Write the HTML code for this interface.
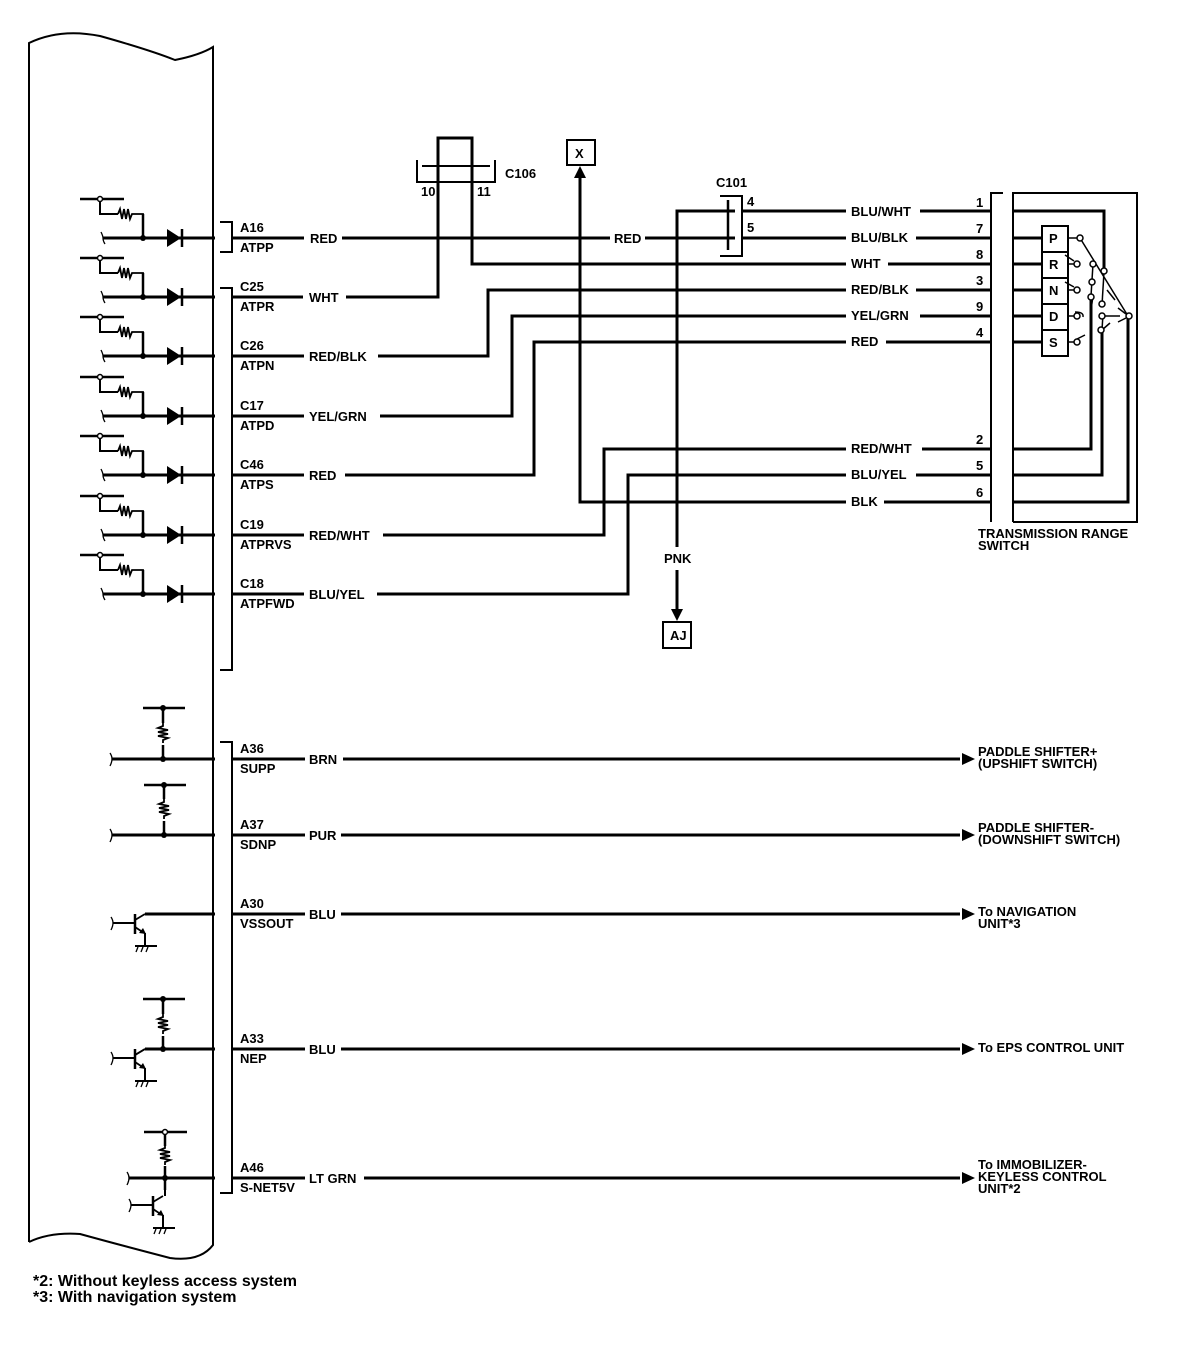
<!DOCTYPE html>
<html><head><meta charset="utf-8"><style>
html,body{margin:0;padding:0;background:#fff}
text{font-family:"Liberation Sans",sans-serif;font-weight:700;font-size:13px;fill:#000}
</style></head><body>
<svg width="1184" height="1358" viewBox="0 0 1184 1358" xmlns="http://www.w3.org/2000/svg" font-family="Liberation Sans, sans-serif" font-weight="bold">
<defs>
<g id="drow">
  <line x1="80" y1="-39" x2="124" y2="-39" stroke="#000" stroke-width="2.5"/>
  <circle cx="100" cy="-39" r="2.5" fill="#fff" stroke="#000" stroke-width="1.5"/>
  <polyline points="100,-37 100,-24 118,-24" fill="none" stroke="#000" stroke-width="2"/>
  <polyline points="118,-24 120,-29 122,-19 124,-29 126,-19 128,-29 130,-19 132,-24 143,-24 143,0" fill="none" stroke="#000" stroke-width="1.8"/>
  <line x1="143" y1="-24" x2="143" y2="0" stroke="#000" stroke-width="2.5"/>
  <path d="M101,-6 Q103,-2 103,0 Q103,3 105,6" fill="none" stroke="#000" stroke-width="1.3"/>
  <line x1="103" y1="0" x2="215" y2="0" stroke="#000" stroke-width="3"/>
  <circle cx="143" cy="0" r="3" fill="#000"/>
  <polygon points="167,-9 167,9 181,0" fill="#000"/>
  <line x1="182" y1="-9" x2="182" y2="9" stroke="#000" stroke-width="2.5"/>
</g>
<g id="res">
  <polyline points="0,-12 0,-9 -5,-7 5,-5 -5,-3 5,-1 -5,1 5,3 0,5 0,8" fill="none" stroke="#000" stroke-width="1.8"/>
</g>
<g id="tr">
  <line x1="-22" y1="9" x2="0" y2="9" stroke="#000" stroke-width="2"/>
  <path d="M-24,3 Q-22,6 -22,9 Q-22,12 -24,16" fill="none" stroke="#000" stroke-width="1.3"/>
  <line x1="0" y1="0" x2="0" y2="20" stroke="#000" stroke-width="2.5"/>
  <line x1="0" y1="6" x2="10" y2="0" stroke="#000" stroke-width="1.8"/>
  <line x1="0" y1="13" x2="9" y2="19" stroke="#000" stroke-width="1.8"/>
  <polygon points="11,20 4,19 8,14" fill="#000"/>
  <line x1="10" y1="19" x2="10" y2="32" stroke="#000" stroke-width="2"/>
  <line x1="0" y1="32" x2="22" y2="32" stroke="#000" stroke-width="2"/>
  <path d="M3,33 l-2,5 M8,33 l-2,5 M13,33 l-2,5" stroke="#000" stroke-width="1.3"/>
</g>
</defs>

<path d="M29,1242 L29,43 Q60,28 100,36 Q150,50 175,60 Q200,55 213,47 L213,1245 Q200,1262 170,1258 Q120,1245 80,1234 Q50,1232 29,1242" fill="none" stroke="#000" stroke-width="2"/>

<use href="#drow" y="238"/><use href="#drow" y="297"/><use href="#drow" y="356"/>
<use href="#drow" y="416"/><use href="#drow" y="475"/><use href="#drow" y="535"/><use href="#drow" y="594"/>

<g stroke="#000" stroke-width="2" fill="none">
<polyline points="220,222 232,222 232,252 220,252"/>
<polyline points="220,288 232,288 232,670 220,670"/>
<polyline points="220,742 232,742 232,1193 220,1193"/>
</g>

<g stroke="#000" stroke-width="3" fill="none">
<line x1="233" y1="238" x2="304" y2="238"/><line x1="342" y1="238" x2="610" y2="238"/><line x1="645" y1="238" x2="735" y2="238"/>
<line x1="233" y1="297" x2="303" y2="297"/><polyline points="346,297 438,297 438,138 472,138 472,264 990,264"/>
<line x1="233" y1="356" x2="304" y2="356"/><polyline points="378,356 488,356 488,290 990,290"/>
<line x1="233" y1="416" x2="304" y2="416"/><polyline points="380,416 512,416 512,316 990,316"/>
<line x1="233" y1="475" x2="304" y2="475"/><polyline points="345,475 534,475 534,342 990,342"/>
<line x1="233" y1="535" x2="304" y2="535"/><polyline points="383,535 604,535 604,449 990,449"/>
<line x1="233" y1="594" x2="304" y2="594"/><polyline points="377,594 628,594 628,475 990,475"/>
<polyline points="580,175 580,502 990,502"/>
<polyline points="677,547 677,211 735,211"/>
<line x1="677" y1="570" x2="677" y2="612"/>
<line x1="742" y1="211" x2="990" y2="211"/>
<line x1="742" y1="238" x2="990" y2="238"/>
</g>
<g stroke="#000" stroke-width="2" fill="none">
<line x1="422" y1="166" x2="490" y2="166"/>
<polyline points="417,160 417,182 495,182 495,160"/>
<polyline points="720,196 742,196 742,256 720,256"/>
<line x1="728" y1="200" x2="728" y2="250" stroke-width="2.5"/>
<rect x="567" y="140" width="28" height="25"/>
<rect x="663" y="622" width="28" height="26"/>
</g>
<polygon points="580,166 574,178 586,178" fill="#000"/>
<polygon points="677,621 671,609 683,609" fill="#000"/>

<g stroke="#000" stroke-width="2" fill="none">
<polyline points="1003,193 991,193 991,522"/>
<polyline points="1013,522 1013,193 1137,193 1137,522 1013,522"/>
<rect x="1042" y="226" width="26" height="130"/>
<line x1="1042" y1="252" x2="1068" y2="252"/><line x1="1042" y1="278" x2="1068" y2="278"/>
<line x1="1042" y1="304" x2="1068" y2="304"/><line x1="1042" y1="330" x2="1068" y2="330"/>
</g>
<g stroke="#000" stroke-width="3" fill="none">
<polyline points="1013,211 1104,211 1104,270"/>
<line x1="1013" y1="238" x2="1042" y2="238"/><line x1="1013" y1="264" x2="1042" y2="264"/>
<line x1="1013" y1="290" x2="1042" y2="290"/><line x1="1013" y1="316" x2="1042" y2="316"/>
<line x1="1013" y1="342" x2="1042" y2="342"/>
<polyline points="1013,449 1091,449 1091,296"/>
<polyline points="1013,475 1102,475 1102,330"/>
<polyline points="1013,502 1128,502 1128,316"/>
</g>
<g stroke="#000" stroke-width="1.5" fill="#fff">
<line x1="1068" y1="238" x2="1080" y2="238"/><line x1="1080" y1="238" x2="1128" y2="316"/>
<line x1="1068" y1="264" x2="1075" y2="264"/><line x1="1074" y1="261" x2="1065" y2="255"/>
<line x1="1068" y1="290" x2="1075" y2="290"/><line x1="1074" y1="287" x2="1065" y2="282"/>
<line x1="1068" y1="316" x2="1075" y2="316"/><path d="M1075,312 Q1084,312 1083,317" fill="none"/>
<line x1="1068" y1="342" x2="1075" y2="342"/><line x1="1077" y1="339" x2="1085" y2="335"/>
<line x1="1093" y1="264" x2="1091" y2="296"/><line x1="1104" y1="272" x2="1102" y2="305"/>
<line x1="1093" y1="296" x2="1091" y2="310"/><line x1="1103" y1="314" x2="1102" y2="330"/>
<line x1="1107" y1="290" x2="1115" y2="300"/><line x1="1102" y1="316" x2="1120" y2="316"/>
<line x1="1118" y1="308" x2="1126" y2="314"/><line x1="1118" y1="322" x2="1126" y2="318"/>
<line x1="1102" y1="330" x2="1110" y2="323"/>
<circle cx="1080" cy="238" r="3"/><circle cx="1077" cy="264" r="3"/><circle cx="1077" cy="290" r="3"/>
<circle cx="1077" cy="316" r="3"/><circle cx="1077" cy="342" r="3"/>
<circle cx="1093" cy="264" r="3"/><circle cx="1104" cy="271" r="3"/><circle cx="1092" cy="282" r="3"/>
<circle cx="1091" cy="297" r="3"/><circle cx="1102" cy="304" r="3"/><circle cx="1102" cy="316" r="3"/>
<circle cx="1101" cy="330" r="3"/><circle cx="1129" cy="316" r="3"/>
</g>

<g stroke="#000" stroke-width="2.5" fill="none">
<line x1="143" y1="708" x2="185" y2="708"/><line x1="163" y1="708" x2="163" y2="723"/><line x1="163" y1="745" x2="163" y2="759"/>
<line x1="144" y1="785" x2="186" y2="785"/><line x1="164" y1="785" x2="164" y2="799"/><line x1="164" y1="821" x2="164" y2="835"/>
<line x1="143" y1="999" x2="185" y2="999"/><line x1="163" y1="999" x2="163" y2="1014"/><line x1="163" y1="1036" x2="163" y2="1049"/>
<line x1="144" y1="1132" x2="187" y2="1132"/><line x1="165" y1="1135" x2="165" y2="1146"/><line x1="165" y1="1166" x2="165" y2="1178"/>
<line x1="165" y1="1178" x2="165" y2="1190"/>
</g>
<g stroke="#000" stroke-width="3" fill="none">
<line x1="112" y1="759" x2="215" y2="759"/>
<line x1="112" y1="835" x2="215" y2="835"/>
<line x1="145" y1="914" x2="215" y2="914"/>
<line x1="145" y1="1049" x2="215" y2="1049"/>
<line x1="129" y1="1178" x2="215" y2="1178"/>
<line x1="233" y1="759" x2="305" y2="759"/><line x1="343" y1="759" x2="960" y2="759"/>
<line x1="233" y1="835" x2="305" y2="835"/><line x1="341" y1="835" x2="960" y2="835"/>
<line x1="233" y1="914" x2="305" y2="914"/><line x1="341" y1="914" x2="960" y2="914"/>
<line x1="233" y1="1049" x2="305" y2="1049"/><line x1="341" y1="1049" x2="960" y2="1049"/>
<line x1="233" y1="1178" x2="305" y2="1178"/><line x1="364" y1="1178" x2="960" y2="1178"/>
</g>
<use href="#res" x="163" y="735"/><use href="#res" x="164" y="811"/><use href="#res" x="163" y="1026"/><use href="#res" x="165" y="1157"/>
<g fill="#000">
<circle cx="163" cy="708" r="3"/><circle cx="163" cy="759" r="3"/><circle cx="164" cy="785" r="3"/><circle cx="164" cy="835" r="3"/>
<circle cx="163" cy="999" r="3"/><circle cx="163" cy="1049" r="3"/><circle cx="165" cy="1178" r="3"/>
<polygon points="975,759 962,753 962,765"/><polygon points="975,835 962,829 962,841"/><polygon points="975,914 962,908 962,920"/>
<polygon points="975,1049 962,1043 962,1055"/><polygon points="975,1178 962,1172 962,1184"/>
</g>
<circle cx="165" cy="1132" r="2.5" fill="#fff" stroke="#000" stroke-width="1.5"/>
<g stroke="#000" stroke-width="1.3" fill="none">
<path d="M110,753 Q112,756 112,759 Q112,762 110,766"/><path d="M110,829 Q112,832 112,835 Q112,838 110,842"/>
<path d="M127,1172 Q129,1175 129,1178 Q129,1181 127,1185"/>
</g>
<use href="#tr" x="135" y="914"/>
<line x1="145" y1="1049" x2="135" y2="1055" stroke="#000" stroke-width="1.8"/>
<use href="#tr" x="135" y="1049"/>
<line x1="165" y1="1190" x2="165" y2="1196" stroke="#000" stroke-width="2"/>
<use href="#tr" x="153" y="1196"/>

<g font-weight="bold" font-size="13" font-family="Liberation Sans, sans-serif">
<text x="240" y="232">A16</text><text x="240" y="252">ATPP</text><text x="310" y="243">RED</text><text x="614" y="243">RED</text>
<text x="240" y="291">C25</text><text x="240" y="311">ATPR</text><text x="309" y="302">WHT</text>
<text x="240" y="350">C26</text><text x="240" y="370">ATPN</text><text x="309" y="361">RED/BLK</text>
<text x="240" y="410">C17</text><text x="240" y="430">ATPD</text><text x="309" y="421">YEL/GRN</text>
<text x="240" y="469">C46</text><text x="240" y="489">ATPS</text><text x="309" y="480">RED</text>
<text x="240" y="529">C19</text><text x="240" y="549">ATPRVS</text><text x="309" y="540">RED/WHT</text>
<text x="240" y="588">C18</text><text x="240" y="608">ATPFWD</text><text x="309" y="599">BLU/YEL</text>
<text x="505" y="178">C106</text><text x="421" y="196">10</text><text x="477" y="196">11</text>
<text x="575" y="158">X</text><text x="670" y="640">AJ</text><text x="664" y="563">PNK</text>
<text x="716" y="187">C101</text><text x="747" y="206">4</text><text x="747" y="232">5</text>
<rect x="846" y="203" width="74" height="16" fill="#fff"/><text x="851" y="216">BLU/WHT</text>
<rect x="846" y="230" width="70" height="16" fill="#fff"/><text x="851" y="242">BLU/BLK</text>
<rect x="846" y="256" width="42" height="16" fill="#fff"/><text x="851" y="268">WHT</text>
<rect x="846" y="282" width="70" height="16" fill="#fff"/><text x="851" y="294">RED/BLK</text>
<rect x="846" y="308" width="74" height="16" fill="#fff"/><text x="851" y="320">YEL/GRN</text>
<rect x="846" y="334" width="40" height="16" fill="#fff"/><text x="851" y="346">RED</text>
<rect x="846" y="441" width="76" height="16" fill="#fff"/><text x="851" y="453">RED/WHT</text>
<rect x="846" y="467" width="70" height="16" fill="#fff"/><text x="851" y="479">BLU/YEL</text>
<rect x="846" y="494" width="38" height="16" fill="#fff"/><text x="851" y="506">BLK</text>
<text x="976" y="207">1</text><text x="976" y="233">7</text><text x="976" y="259">8</text><text x="976" y="285">3</text>
<text x="976" y="311">9</text><text x="976" y="337">4</text><text x="976" y="444">2</text><text x="976" y="470">5</text><text x="976" y="497">6</text>
<text x="1049" y="243">P</text><text x="1049" y="269">R</text><text x="1049" y="295">N</text><text x="1049" y="321">D</text><text x="1049" y="347">S</text>
<text x="978" y="538">TRANSMISSION RANGE</text><text x="978" y="550">SWITCH</text>
<text x="240" y="753">A36</text><text x="240" y="773">SUPP</text><text x="309" y="764">BRN</text>
<text x="240" y="829">A37</text><text x="240" y="849">SDNP</text><text x="309" y="840">PUR</text>
<text x="240" y="908">A30</text><text x="240" y="928">VSSOUT</text><text x="309" y="919">BLU</text>
<text x="240" y="1043">A33</text><text x="240" y="1063">NEP</text><text x="309" y="1054">BLU</text>
<text x="240" y="1172">A46</text><text x="240" y="1192">S-NET5V</text><text x="309" y="1183">LT GRN</text>
<text x="978" y="756">PADDLE SHIFTER+</text><text x="978" y="768">(UPSHIFT SWITCH)</text>
<text x="978" y="832">PADDLE SHIFTER-</text><text x="978" y="844">(DOWNSHIFT SWITCH)</text>
<text x="978" y="916">To NAVIGATION</text><text x="978" y="928">UNIT*3</text>
<text x="978" y="1052">To EPS CONTROL UNIT</text>
<text x="978" y="1169">To IMMOBILIZER-</text><text x="978" y="1181">KEYLESS CONTROL</text><text x="978" y="1193">UNIT*2</text>
<text x="33" y="1286" font-size="16" style="font-size:16px">*2: Without keyless access system</text>
<text x="33" y="1302" font-size="16" style="font-size:16px">*3: With navigation system</text>
</g>
</svg>
</body></html>
